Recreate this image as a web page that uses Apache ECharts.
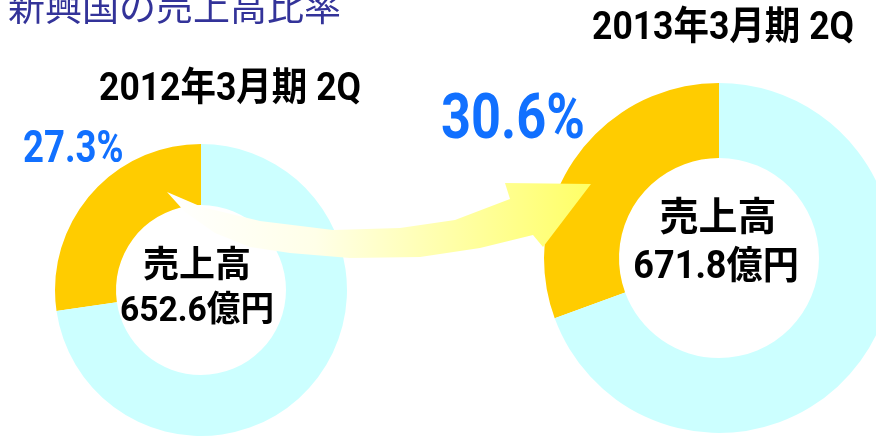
<!DOCTYPE html>
<html>
<head>
<meta charset="utf-8">
<script src="https://cdn.jsdelivr.net/npm/echarts@6/dist/echarts.min.js"></script>
<style>
  html, body { margin: 0; padding: 0; background: #fff; }
  #main { width: 876px; height: 437px; }
</style>
</head>
<body>
<div id="main"></div>
<script>
// periods compared
var periods = ['2012年3月期 2Q', '2013年3月期 2Q'];
// share of sales from emerging countries (%)
var emergingShare = [27.3, 30.6];
// total sales (億円)
var sales = [652.6, 671.8];

var chartDom = document.getElementById('main');
var myChart = echarts.init(chartDom);

var narrow = 'Roboto, "Noto Sans CJK JP", sans-serif';
var cjk = '"Noto Sans CJK JP", sans-serif';

function donut(i, center, radius) {
  return {
    type: 'pie',
    center: center,
    radius: radius,
    startAngle: 90,
    clockwise: false,
    silent: true,
    label: { show: false },
    labelLine: { show: false },
    data: [
      { value: emergingShare[i], name: '新興国', itemStyle: { color: '#FFCC00' } },
      { value: +(100 - emergingShare[i]).toFixed(1), name: 'その他', itemStyle: { color: '#CCFFFF' } }
    ]
  };
}

// text element; sx squeezes the glyphs horizontally (the original uses a condensed face)
function txt(x, y, text, size, color, weight, align, family, sx) {
  return {
    type: 'text',
    x: x,
    y: y,
    z: 200,
    scaleX: sx || 1,
    style: {
      text: text,
      fill: color,
      font: weight + ' ' + size + 'px ' + family,
      align: align,
      verticalAlign: 'middle'
    }
  };
}

var option = {
  animation: false,
  series: [
    donut(0, [201, 290], [85, 146]),
    donut(1, [719, 258], [100, 175])
  ],
  graphic: [
    // curved arrow from the left donut to the right one
    {
      type: 'polygon',
      z: 150,
      shape: {
        points: [
          [167, 192], [202, 207], [260, 221], [333, 230], [400, 228],
          [455, 220], [510, 199], [505, 183], [591, 184], [543, 247],
          [533, 235], [480, 248], [420, 257], [350, 258], [290, 253],
          [250, 247], [215, 233], [185, 212]
        ]
      },
      style: {
        fill: new echarts.graphic.LinearGradient(0, 0, 1, 0, [
          { offset: 0, color: '#FFFFFF' },
          { offset: 0.35, color: '#FFFFE8' },
          { offset: 1, color: '#FFFF66' }
        ])
      }
    },
    txt(8, 7, '新興国の売上高比率', 37, '#333399', 'normal', 'left', cjk),
    txt(230, 90, periods[0], 39, '#000', 'bold', 'center', narrow, 0.91),
    txt(723, 29, periods[1], 39, '#000', 'bold', 'center', narrow, 0.91),
    txt(23, 151, emergingShare[0].toFixed(1) + '%', 44, '#1170FF', 'bold', 'left', narrow, 0.83),
    txt(441, 122, emergingShare[1].toFixed(1) + '%', 63, '#1170FF', 'bold', 'left', narrow, 0.83),
    txt(197, 268, '売上高', 36, '#000', 'bold', 'center', narrow),
    txt(197, 312, sales[0].toFixed(1) + '億円', 35, '#000', 'bold', 'center', narrow, 0.96),
    txt(718, 220, '売上高', 39, '#000', 'bold', 'center', narrow),
    txt(716, 268, sales[1].toFixed(1) + '億円', 38, '#000', 'bold', 'center', narrow, 0.95)
  ]
};

option && myChart.setOption(option);
</script>
</body>
</html>
